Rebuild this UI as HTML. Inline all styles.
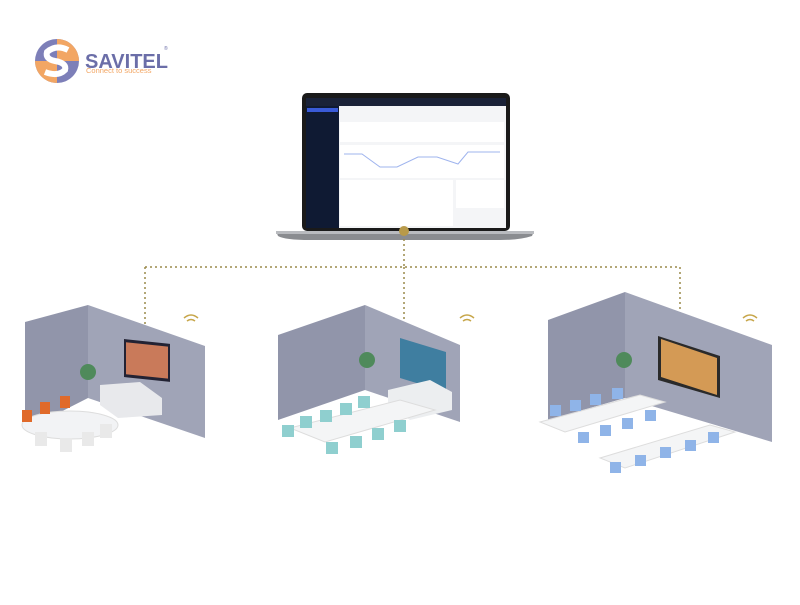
<!DOCTYPE html>
<html><head><meta charset="utf-8"><style>
body{margin:0;background:#fff;width:800px;height:600px;overflow:hidden;font-family:"Liberation Sans",sans-serif}
</style></head><body>
<svg width="800" height="600" viewBox="0 0 800 600" xmlns="http://www.w3.org/2000/svg">
<!-- logo -->
<circle cx="57" cy="61" r="22" fill="#7d7fb8"/>
<path d="M57 39 A22 22 0 0 1 79 61 L57 61Z" fill="#f2a664"/>
<path d="M57 83 A22 22 0 0 1 35 61 L57 61Z" fill="#f2a664"/>
<path d="M68 50 Q56 44 47 52 Q45 59 55 61 Q67 63 65 70 Q58 77 45 72" stroke="#fff" stroke-width="6" fill="none"/>
<text x="85" y="68" font-size="20" font-weight="bold" fill="#6b6ea8" font-family="Liberation Sans,sans-serif">SAVITEL</text>
<text x="164" y="50" font-size="5" fill="#6b6ea8">®</text>
<text x="86" y="73" font-size="7.5" fill="#f2a664" font-family="Liberation Sans,sans-serif">Connect to success</text>
<!-- laptop -->
<rect x="302" y="93" width="208" height="138" rx="5" fill="#1a1a1a"/>
<rect x="306" y="98" width="200" height="130" fill="#f4f5f7"/>
<rect x="306" y="98" width="200" height="8" fill="#1a2238"/>
<rect x="306" y="106" width="33" height="122" fill="#0f1a33"/>
<rect x="307" y="108" width="31" height="4" fill="#3a5bd8"/>
<rect x="340" y="122" width="164" height="20" fill="#fff"/>
<rect x="340" y="145" width="164" height="33" fill="#fff"/>
<polyline points="344,154 362,154 380,167 397,167 418,157 437,157 458,164 468,152 500,152" stroke="#9fb4ee" fill="none" stroke-width="1"/>
<rect x="340" y="180" width="113" height="46" fill="#fff"/>
<rect x="456" y="180" width="48" height="28" fill="#fff"/>
<path d="M276 231 L534 231 L532 236 Q520 240 500 240 L310 240 Q285 240 278 236Z" fill="#8a8c90"/>
<rect x="276" y="231" width="258" height="3" fill="#b9bbbf"/>
<!-- connectors -->
<g stroke="#9a8a4a" stroke-width="1.5" stroke-dasharray="2,3" fill="none">
<path d="M404 234 V267 M145 267 H680 M145 267 V350 M680 267 V345"/>
<path d="M404 267 V345"/>
</g>
<circle cx="404" cy="231" r="5" fill="#b89a4a"/>
<!-- room 1 -->
<polygon points="25,322 88,305 88,398 25,430" fill="#9195aa"/>
<polygon points="88,305 205,346 205,438 88,398" fill="#a0a4b7"/>
<rect x="124" y="340" width="46" height="38" fill="#223" transform="skewY(6) translate(0,-14)"/>
<rect x="126" y="343" width="42" height="32" fill="#c97a5a" transform="skewY(6) translate(0,-14)"/>
<polygon points="100,385 140,382 162,398 162,415 118,418 100,405" fill="#e8e9ec"/>
<ellipse cx="70" cy="425" rx="48" ry="14" fill="#f2f3f5" stroke="#ddd"/>
<g fill="#e06a2a"><rect x="22" y="410" width="10" height="12"/><rect x="40" y="402" width="10" height="12"/><rect x="60" y="396" width="10" height="12"/></g>
<g fill="#e9e9e9"><rect x="60" y="438" width="12" height="14"/><rect x="82" y="432" width="12" height="14"/><rect x="100" y="424" width="12" height="14"/><rect x="35" y="432" width="12" height="14"/></g>
<circle cx="88" cy="372" r="8" fill="#4f8a5b"/>
<!-- room 2 -->
<polygon points="278,335 365,305 365,390 278,420" fill="#9195aa"/>
<polygon points="365,305 460,345 460,422 365,390" fill="#a0a4b7"/>
<polygon points="400,338 446,352 446,392 400,378" fill="#3f7ea0"/>
<polygon points="388,390 430,380 452,392 452,410 410,420 388,405" fill="#eceef0"/>
<polygon points="290,428 400,400 435,410 325,442" fill="#f4f5f6" stroke="#ddd"/>
<g fill="#8fcfcf"><rect x="282" y="425" width="12" height="12"/><rect x="300" y="416" width="12" height="12"/><rect x="320" y="410" width="12" height="12"/><rect x="340" y="403" width="12" height="12"/><rect x="358" y="396" width="12" height="12"/><rect x="326" y="442" width="12" height="12"/><rect x="350" y="436" width="12" height="12"/><rect x="372" y="428" width="12" height="12"/><rect x="394" y="420" width="12" height="12"/></g>
<circle cx="367" cy="360" r="8" fill="#4f8a5b"/>
<!-- room 3 -->
<polygon points="548,320 625,292 625,398 548,420" fill="#9195aa"/>
<polygon points="625,292 772,345 772,442 625,398" fill="#a0a4b7"/>
<polygon points="658,336 720,356 720,398 658,380" fill="#2a2a2a"/>
<polygon points="661,339 717,358 717,395 661,377" fill="#d49a55"/>
<polygon points="540,422 640,395 665,402 565,432" fill="#f4f5f6" stroke="#ddd"/>
<polygon points="600,458 710,425 735,432 625,468" fill="#f4f5f6" stroke="#ddd"/>
<g fill="#8fb4e8"><rect x="550" y="405" width="11" height="11"/><rect x="570" y="400" width="11" height="11"/><rect x="590" y="394" width="11" height="11"/><rect x="612" y="388" width="11" height="11"/><rect x="578" y="432" width="11" height="11"/><rect x="600" y="425" width="11" height="11"/><rect x="622" y="418" width="11" height="11"/><rect x="645" y="410" width="11" height="11"/><rect x="610" y="462" width="11" height="11"/><rect x="635" y="455" width="11" height="11"/><rect x="660" y="447" width="11" height="11"/><rect x="685" y="440" width="11" height="11"/><rect x="708" y="432" width="11" height="11"/></g>
<circle cx="624" cy="360" r="8" fill="#4f8a5b"/>
<!-- wifi -->
<g stroke="#c7a64a" stroke-width="1.5" fill="none">
<path d="M184 318 Q191 312 198 318 M187 321 Q191 318 195 321"/>
<path d="M460 318 Q467 312 474 318 M463 321 Q467 318 471 321"/>
<path d="M743 318 Q750 312 757 318 M746 321 Q750 318 754 321"/>
</g>
</svg>
</body></html>
